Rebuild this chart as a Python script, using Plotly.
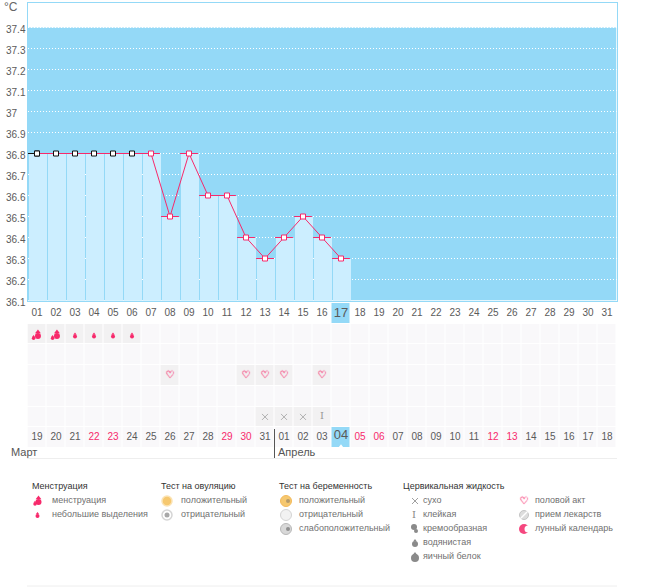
import plotly.graph_objects as go

W, H = 655, 587

days = list(range(1, 32))
day_labels = ["01", "02", "03", "04", "05", "06", "07", "08", "09", "10", "11", "12", "13", "14", "15", "16",
              "17", "18", "19", "20", "21", "22", "23", "24", "25", "26", "27", "28", "29", "30", "31"]
date_labels = ["19", "20", "21", "22", "23", "24", "25", "26", "27", "28", "29", "30", "31", "01", "02", "03",
               "04", "05", "06", "07", "08", "09", "10", "11", "12", "13", "14", "15", "16", "17", "18"]
weekend_labels = [3, 4, 10, 11, 17, 18, 24, 25]  # positions in date_labels shown in pink

temp_days = list(range(1, 18))
temps = [36.8, 36.8, 36.8, 36.8, 36.8, 36.8, 36.8, 36.5, 36.8, 36.6, 36.6, 36.4, 36.3, 36.4, 36.5, 36.4, 36.3]
black_marker_days = [1, 2, 3, 4, 5, 6]

temp_ticks = [37.4, 37.3, 37.2, 37.1, 37.0, 36.9, 36.8, 36.7, 36.6, 36.5, 36.4, 36.3, 36.2, 36.1]
temp_tick_labels = ["37.4", "37.3", "37.2", "37.1", "37", "36.9", "36.8", "36.7", "36.6", "36.5", "36.4",
                    "36.3", "36.2", "36.1"]

today = 17
heavy_days = [1, 2]
light_days = [3, 4, 5, 6]
sex_days = [8, 12, 13, 14, 16]
dry_days = [13, 14, 15]
sticky_days = [16]

legend_heads = ["Менструация", "Тест на овуляцию", "Тест на беременность", "Цервикальная жидкость"]
legend_head_x = [32, 161, 279, 403]
legend_items = ["менструация", "небольшие выделения", "положительный", "отрицательный", "положительный",
                "отрицательный", "слабоположительный", "сухо", "клейкая", "кремообразная", "водянистая",
                "яичный белок", "половой акт", "прием лекарств", "лунный календарь"]
legend_item_x = [52, 52, 181, 181, 299, 299, 299, 423, 423, 423, 423, 423, 535, 535, 535]
legend_item_y = [501, 515, 501, 515, 501, 515, 529, 501, 515, 529, 543, 557, 501, 515, 529]

BLUE = "#94d9f7"
BAR = "#cceeff"
PINK = "#f7296b"
GREY = "#5a5a5a"
FONT = "Liberation Sans"
HEART_SHADOW = "0 0 1px #f7296b, 0 0 1px #f7296b"

# rows of the lower table, 0 is the header with day numbers, 6 the calendar dates
ROW_HEAD, ROW_FLOW, ROW_SEX, ROW_MUCUS, ROW_DATE = 0, 1, 3, 5, 6
z = []
for row in range(7):
    cells = [0 if row == ROW_HEAD else 1 for d in days]
    z.append(cells)
z[ROW_HEAD][today - 1] = 3
z[ROW_DATE][today - 1] = 3
for d in heavy_days + light_days:
    z[ROW_FLOW][d - 1] = 2
for d in sex_days:
    z[ROW_SEX][d - 1] = 2
for d in dry_days + sticky_days:
    z[ROW_MUCUS][d - 1] = 2

fig = go.Figure()

# temperature
fig.add_trace(go.Bar(x=temp_days, y=temps, width=18 / 19, marker=dict(color=BAR, line=dict(width=0)),
                     hoverinfo="skip"))
fig.add_trace(go.Scatter(x=temp_days, y=temps, mode="lines+markers",
                         line=dict(color=PINK, width=1),
                         marker=dict(symbol="square", size=5, color="white",
                                     line=dict(width=1, color=["#111111" if d in black_marker_days else PINK
                                                               for d in temp_days])),
                         error_x=dict(type="constant", value=0.47, width=0, color=PINK, thickness=1),
                         hoverinfo="skip"))
fig.add_trace(go.Scatter(x=temp_days[:1], y=temps[:1], mode="markers",
                         marker=dict(symbol="square", size=5, color="white", line=dict(width=1, color="#111111")),
                         error_x=dict(type="data", symmetric=False, array=[0], arrayminus=[0.47], width=0,
                                      color="#111111", thickness=1),
                         hoverinfo="skip"))

# lower table
fig.add_trace(go.Heatmap(x=days, y=list(range(7)), z=z, xgap=1, ygap=1, zmin=0, zmax=3, showscale=False,
                         colorscale=[[0, "white"], [1 / 3, "#f9f8fa"], [2 / 3, "#f2f1f2"], [1, BLUE]],
                         hoverinfo="skip", yaxis="y2"))


def table_text(x, y, text, color=GREY, size=10, family=FONT, shadow="none"):
    fig.add_trace(go.Scatter(x=x, y=y, mode="text", text=text, yaxis="y2", hoverinfo="skip",
                             textposition="middle center",
                             textfont=dict(family=family, color=color, size=size, shadow=shadow)))


table_text(days, [ROW_HEAD] * 31, day_labels, size=[13 if d == today else 10 for d in days])
table_text(days, [ROW_DATE - (0.1 if d == today else 0) for d in days], date_labels,
           color=[PINK if i in weekend_labels else GREY for i in range(31)],
           size=[13 if d == today else 10 for d in days])
table_text(sex_days, [ROW_SEX] * len(sex_days), ["♡"] * len(sex_days), color=PINK, size=10, family="DejaVu Sans",
           shadow=HEART_SHADOW)
table_text(sticky_days, [ROW_MUCUS] * len(sticky_days), ["I"] * len(sticky_days), color="#999999", size=10,
           family="DejaVu Serif")


def table_marks(x, y, symbol, size, color, line=0):
    fig.add_trace(go.Scatter(x=x, y=y, mode="markers", yaxis="y2", hoverinfo="skip",
                             marker=dict(symbol=symbol, size=size, color=color,
                                         line=dict(width=line, color=color))))


table_marks(dry_days, [ROW_MUCUS] * 3, "x-thin", 6, "#b0b0b0", 1)
table_marks([today], [ROW_DATE + 0.42], "triangle-up", 4, "white")
table_marks(light_days, [ROW_FLOW] * 4, "triangle-up", 3, PINK)
table_marks(light_days, [ROW_FLOW + 0.12] * 4, "circle", 4, PINK)
table_marks([d + 0.05 for d in heavy_days], [ROW_FLOW - 0.1] * 2, "triangle-up", 5, PINK)
table_marks([d + 0.05 for d in heavy_days], [ROW_FLOW + 0.09] * 2, "circle", 6, PINK)
table_marks([d - 0.18 for d in heavy_days], [ROW_FLOW + 0.11] * 2, "triangle-up", 2.5, PINK)
table_marks([d - 0.18 for d in heavy_days], [ROW_FLOW + 0.2] * 2, "circle", 3.5, PINK)


# page level things: legend, month names, rules
def page_text(x, y, text, color, size=9, family=FONT, shadow="none"):
    fig.add_trace(go.Scatter(x=x, y=y, mode="text", text=text, xaxis="x2", yaxis="y3", hoverinfo="skip",
                             textposition="middle right",
                             textfont=dict(family=family, color=color, size=size, shadow=shadow)))


def page_mark(x, y, symbol, size, color, line=0, line_color=None):
    fig.add_trace(go.Scatter(x=[x], y=[y], mode="markers", xaxis="x2", yaxis="y3", hoverinfo="skip",
                             marker=dict(symbol=symbol, size=size, color=color,
                                         line=dict(width=line, color=line_color or color))))


page_text(legend_head_x, [487] * 4, legend_heads, "#333333", 9)
page_text(legend_item_x, legend_item_y, legend_items, "#707070", 9)
page_text([11, 278], [453, 453], ["Март", "Апрель"], "#555555", 11)
page_text([4], [8], ["°C"], "#666666", 12)

# menstruation icons
page_mark(38.5, 498, "triangle-up", 5, PINK)
page_mark(38.5, 502, "circle", 6, PINK)
page_mark(35, 502, "triangle-up", 2.5, PINK)
page_mark(35, 504, "circle", 3.5, PINK)
page_mark(37.5, 513.5, "triangle-up", 3, PINK)
page_mark(37.5, 516, "circle", 4, PINK)
# ovulation test icons
page_mark(167, 501, "circle", 10, "#f6c86f", 1.5, "#fbe3b4")
page_mark(167, 515, "circle-open", 10, "#d5d5d5", 1.5)
page_mark(167, 515, "circle", 5, "#a8a8a8")
# pregnancy test icons
page_mark(286, 501, "circle", 11, "#f6c86f", 1, "#f3b95a")
page_mark(288, 501, "circle", 4, "#b59a6a")
page_mark(286, 515, "circle", 11, "#f2f2f2", 1, "#d4d4d4")
page_mark(286, 529, "circle", 11, "#d8d8d8", 1, "#b8b8b8")
page_mark(288, 529, "circle", 4, "#8f8f8f")
# mucus icons
page_mark(415, 501, "x-thin", 6, "#a0a0a0", 1)
page_text([412], [515], ["I"], "#888888", 10, "DejaVu Serif")
page_mark(414, 527, "circle", 6, "#8a8a8a")
page_mark(416, 531, "circle", 4, "#8a8a8a")
page_mark(415, 540.5, "triangle-up", 3, "#8a8a8a")
page_mark(415, 544, "circle", 6, "#8a8a8a")
page_mark(415, 558, "circle", 8, "#8a8a8a")
page_mark(415, 554, "triangle-up", 4, "#8a8a8a")
# other icons
page_text([519.5], [501], ["♡"], PINK, 10, "DejaVu Sans", HEART_SHADOW)
page_mark(524, 515, "circle", 9, "#dddddd", 1, "#c4c4c4")
page_mark(524, 515, "line-ne", 7, "white", 1.5, "white")
page_mark(524, 529, "circle", 10, "#f5477f")
page_mark(528, 529, "circle", 7, "white")

for d, label in zip(temp_ticks, temp_tick_labels):
    fig.add_annotation(xref="paper", yref="y", x=5 / W, y=d, text=label, showarrow=False, xanchor="left",
                       yanchor="middle", yshift=-2, xshift=-1, font=dict(family=FONT, size=10, color=GREY))

fig.update_layout(
    width=W, height=H, margin=dict(l=0, r=0, t=0, b=0), autosize=False,
    paper_bgcolor="white", plot_bgcolor="rgba(0,0,0,0)", showlegend=False, bargap=0,
    xaxis=dict(domain=[27.5 / W, 616.5 / W], range=[0.5, 31.5], anchor="y", showticklabels=False, ticks="",
               showgrid=False, zeroline=False, showline=True, mirror=True, linecolor=BLUE, linewidth=1),
    yaxis=dict(domain=[(H - 300.5) / H, (H - 3) / H], range=[min(temp_ticks), 37.5167], tickvals=temp_ticks,
               showticklabels=False, ticks="", showgrid=True, gridcolor="white", griddash="1px,2px", gridwidth=1,
               zeroline=False, showline=True, mirror=True, linecolor=BLUE, linewidth=1),
    yaxis2=dict(domain=[(H - 448) / H, (H - 303) / H], range=[6.5, -0.5], anchor="x", showticklabels=False,
                ticks="", showgrid=False, zeroline=False),
    xaxis2=dict(domain=[0, 1], range=[0, W], anchor="y3", visible=False),
    yaxis3=dict(domain=[0, 1], range=[H, 0], anchor="x2", visible=False),
    shapes=[
        dict(type="rect", xref="x", yref="y", x0=0.5, x1=31.5, y0=min(temp_ticks), y1=max(temp_ticks),
             fillcolor=BLUE, line_width=0, layer="below"),
        dict(type="line", xref="x2", yref="y3", x0=27, x1=617, y0=458.5, y1=458.5,
             line=dict(color="#eeeeee", width=1)),
        dict(type="line", xref="x2", yref="y3", x0=27, x1=617, y0=586, y1=586,
             line=dict(color="#eeeeee", width=1)),
        dict(type="line", xref="x2", yref="y3", x0=274.5, x1=274.5, y0=429, y1=458,
             line=dict(color="#555555", width=1)),
    ],
)

fig.write_html("out.html", config=dict(displayModeBar=False),
               post_script="document.body.style.margin='0';document.body.style.overflow='hidden';")
